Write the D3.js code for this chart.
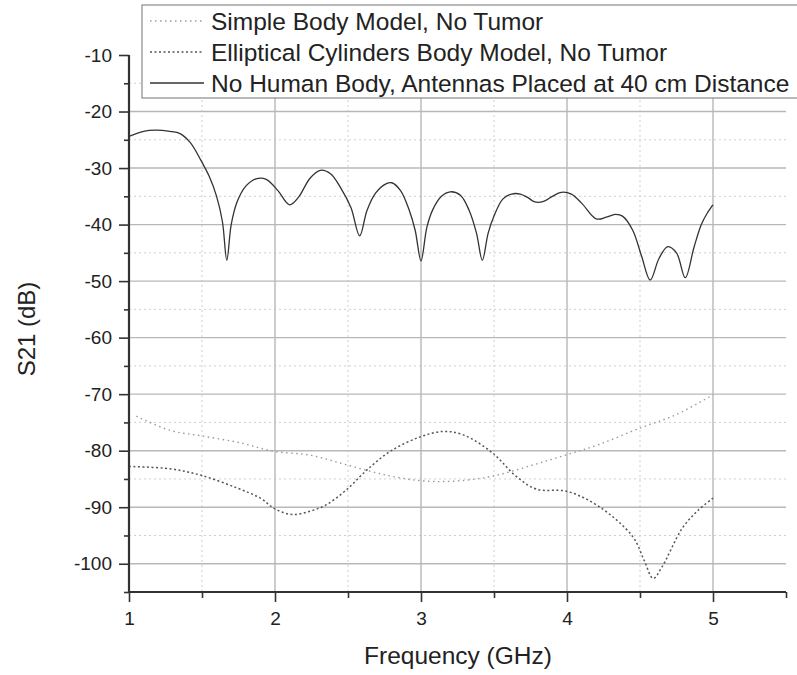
<!DOCTYPE html>
<html><head><meta charset="utf-8">
<script src="https://cdn.jsdelivr.net/npm/d3@7"></script>
<style>
html,body{margin:0;padding:0;background:#fff;}
svg{display:block;font-family:"Liberation Sans",Arial,sans-serif;}
</style></head>
<body><svg id="chart" width="797" height="675"></svg>
<script>
// ---- data ----
const noBodyFreq = [1.00,1.10,1.18,1.28,1.35,1.42,1.49,1.55,1.60,1.64,1.67,1.70,1.74,1.80,1.87,1.94,2.02,2.10,2.16,2.24,2.31,2.38,2.45,2.52,2.58,2.63,2.69,2.76,2.80,2.86,2.92,2.96,3.00,3.04,3.08,3.14,3.20,3.27,3.33,3.38,3.42,3.46,3.50,3.56,3.62,3.68,3.73,3.78,3.84,3.90,3.96,4.03,4.10,4.20,4.27,4.33,4.38,4.45,4.51,4.57,4.63,4.69,4.75,4.81,4.87,4.92,4.96,5.00];
const noBodyS21 = [-24.4,-23.5,-23.3,-23.5,-23.9,-25.5,-28.5,-31.5,-35.0,-39.5,-46.3,-40.0,-36.0,-33.2,-31.9,-32.0,-34.0,-36.5,-35.2,-31.8,-30.4,-31.0,-33.5,-37.0,-42.0,-37.5,-34.4,-32.8,-32.6,-34.0,-37.5,-41.0,-46.4,-40.5,-37.4,-35.0,-34.2,-34.8,-37.5,-41.5,-46.3,-41.5,-38.5,-35.5,-34.6,-34.6,-35.2,-36.0,-35.9,-35.0,-34.3,-34.6,-36.2,-39.0,-38.7,-38.2,-38.5,-41.0,-45.5,-49.8,-46.0,-43.9,-45.0,-49.4,-44.0,-40.0,-38.0,-36.5];

const simpleFreq = [1.05,1.28,1.50,1.76,1.99,2.24,2.49,2.74,2.99,3.22,3.49,3.77,4.00,4.22,4.50,4.75,5.00];
const simpleS21 = [-73.9,-76.4,-77.4,-78.6,-80.1,-80.8,-82.5,-84.2,-85.3,-85.4,-84.5,-82.5,-80.7,-78.9,-76.0,-73.6,-70.1];

const ellipFreq = [1.00,1.28,1.50,1.74,1.90,2.00,2.12,2.24,2.35,2.49,2.63,2.79,2.99,3.15,3.29,3.49,3.65,3.79,4.00,4.22,4.45,4.53,4.59,4.65,4.79,4.90,5.00];
const ellipS21 = [-82.8,-83.2,-84.4,-86.6,-88.4,-90.3,-91.3,-90.7,-89.6,-86.9,-83.4,-80.1,-77.6,-76.6,-77.2,-80.4,-84.5,-86.8,-87.2,-89.9,-95.2,-99.5,-102.6,-100.6,-93.7,-90.5,-88.4];

const xMajorTicks = [1,2,3,4,5];
const xMinorTicks = [1.5,2.5,3.5,4.5,5.5];
const yMajorTicks = [-100,-90,-80,-70,-60,-50,-40,-30,-20,-10];
const yMinorTicks = [-105,-95,-85,-75,-65,-55,-45,-35,-25,-15];

const seriesNames = ["Simple Body Model, No Tumor","Elliptical Cylinders Body Model, No Tumor","No Human Body, Antennas Placed at 40 cm Distance"];
const xTitle = "Frequency (GHz)";
const yTitle = "S21 (dB)";

// ---- chart ----
const svg = d3.select("#chart");
const x = d3.scaleLinear().domain([1,5.5]).range([129,786]);
const y = d3.scaleLinear().domain([-105,-10]).range([592,55]);

const grid = svg.append("g");
// minor grid
grid.selectAll(".vmin").data(xMinorTicks.filter(d=>d<=5)).join("line")
  .attr("x1",d=>x(d)).attr("x2",d=>x(d)).attr("y1",y(-105)).attr("y2",y(-10))
  .attr("stroke","#cfcfcf").attr("stroke-width",1).attr("stroke-dasharray","2,3");
grid.selectAll(".hmin").data(yMinorTicks.filter(d=>d>-105)).join("line")
  .attr("x1",x(1)).attr("x2",x(5.5)).attr("y1",d=>y(d)).attr("y2",d=>y(d))
  .attr("stroke","#cfcfcf").attr("stroke-width",1).attr("stroke-dasharray","2,3");
// major grid
grid.selectAll(".vmaj").data(xMajorTicks.filter(d=>d>1)).join("line")
  .attr("x1",d=>x(d)).attr("x2",d=>x(d)).attr("y1",y(-105)).attr("y2",y(-10))
  .attr("stroke","#b8b8b8").attr("stroke-width",1.4);
grid.selectAll(".hmaj").data(yMajorTicks.filter(d=>d<-10)).join("line")
  .attr("x1",x(1)).attr("x2",x(5.5)).attr("y1",d=>y(d)).attr("y2",d=>y(d))
  .attr("stroke","#b8b8b8").attr("stroke-width",1.4);

// curves
const line = d3.line().x(d=>x(d[0])).y(d=>y(d[1])).curve(d3.curveCatmullRom.alpha(0.5));
const zip = (a,b)=>a.map((v,i)=>[v,b[i]]);
svg.append("path").datum(zip(simpleFreq,simpleS21)).attr("d",line)
  .attr("fill","none").attr("stroke","#9a9a9a").attr("stroke-width",1.4).attr("stroke-dasharray","1.5,3.5");
svg.append("path").datum(zip(ellipFreq,ellipS21)).attr("d",line)
  .attr("fill","none").attr("stroke","#555").attr("stroke-width",1.5).attr("stroke-dasharray","2,2.5");
svg.append("path").datum(zip(noBodyFreq,noBodyS21)).attr("d",line)
  .attr("fill","none").attr("stroke","#333").attr("stroke-width",1.3);

// axes
const fmt = d => String(d);
const xAxis = svg.append("g").attr("transform",`translate(0,${y(-105)})`)
  .call(d3.axisBottom(x).tickValues(xMajorTicks).tickSize(10).tickPadding(10).tickFormat(fmt));
const xAxisMin = svg.append("g").attr("transform",`translate(0,${y(-105)})`)
  .call(d3.axisBottom(x).tickValues(xMinorTicks).tickSize(6).tickFormat(""));
const yAxis = svg.append("g").attr("transform",`translate(${x(1)},0)`)
  .call(d3.axisLeft(y).tickValues(yMajorTicks).tickSize(10).tickPadding(7).tickFormat(fmt));
const yAxisMin = svg.append("g").attr("transform",`translate(${x(1)},0)`)
  .call(d3.axisLeft(y).tickValues(yMinorTicks).tickSize(5).tickFormat(""));
[xAxis,xAxisMin,yAxis,yAxisMin].forEach(g=>{
  g.select(".domain").attr("stroke","#333").attr("stroke-width",2.2);
  g.selectAll(".tick line").attr("stroke","#333").attr("stroke-width",1.6);
  g.selectAll("text").attr("font-size",19).attr("fill","#222").attr("font-family","Liberation Sans, Arial, sans-serif");
});
xAxis.selectAll(".domain").attr("d",`M${x(1)},0H${x(5.5)}`);
xAxisMin.select(".domain").remove();
yAxisMin.select(".domain").remove();
yAxis.select(".domain").attr("d",`M0,${y(-10)}V${y(-105)}`);

// titles
svg.append("text").attr("x",458).attr("y",664).attr("text-anchor","middle")
  .attr("font-size",24.5).attr("fill","#222").text(xTitle);
svg.append("text").attr("transform","translate(35,329) rotate(-90)").attr("text-anchor","middle")
  .attr("font-size",24).attr("fill","#222").text(yTitle);

// legend
const lg = svg.append("g");
lg.append("rect").attr("x",142).attr("y",5).attr("width",670).attr("height",93)
  .attr("fill","#fff").attr("stroke","#8a8a8a").attr("stroke-width",1.2);
const legendStyles = [
  {stroke:"#9a9a9a",dash:"1.5,3.5",w:1.4},
  {stroke:"#555",dash:"2,2.5",w:1.5},
  {stroke:"#333",dash:null,w:1.3}
];
const rowY = [21,52,83];
seriesNames.forEach((name,i)=>{
  lg.append("line").attr("x1",150).attr("x2",204).attr("y1",rowY[i]).attr("y2",rowY[i])
    .attr("stroke",legendStyles[i].stroke).attr("stroke-width",legendStyles[i].w)
    .attr("stroke-dasharray",legendStyles[i].dash);
  lg.append("text").attr("x",211).attr("y",rowY[i]).attr("dy","0.35em")
    .attr("font-size",24.5).attr("fill","#222").text(name);
});
</script></body></html>
